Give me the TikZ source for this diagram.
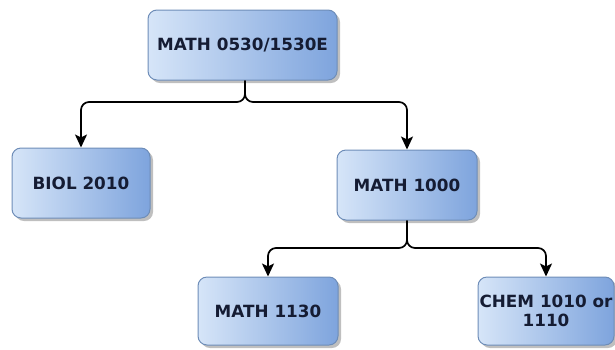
\documentclass[tikz,border=0pt]{standalone}
\usepackage{fontspec}
\setmainfont{DejaVu Sans}
\usetikzlibrary{shadows,arrows.meta}
\definecolor{boxl}{HTML}{D6E5F8}
\definecolor{boxr}{HTML}{7EA4DD}
\definecolor{boxd}{HTML}{6E8DB8}
\definecolor{txt}{HTML}{151C33}
\begin{document}
\begin{tikzpicture}[x=1pt,y=-1pt,
  course/.style={draw=boxd, line width=1pt, rounded corners=9pt, left color=boxl, right color=boxr,
    drop shadow={shadow xshift=3pt, shadow yshift=-3pt, fill=black, opacity=0.25},
    font=\fontsize{16.8}{19}\selectfont\bfseries, text=txt, align=center, inner sep=1pt},
  link/.style={line width=1.7pt, rounded corners=8pt, -{Stealth[length=13pt,width=12pt,inset=3pt]}}]
\useasboundingbox (0,0) rectangle (615,349);
\node[course, minimum width=189pt, minimum height=70pt] (top) at (242.5,45) {MATH 0530/1530E};
\node[course, minimum width=138pt, minimum height=70pt] (biol) at (81,183) {BIOL 2010};
\node[course, minimum width=140pt, minimum height=70pt] (m1000) at (407,185) {MATH 1000};
\node[course, minimum width=140pt, minimum height=68pt] (m1130) at (268,311) {MATH 1130};
\node[course, minimum width=136pt, minimum height=68pt] (chem) at (546,311) {CHEM 1010 or\\1110};
\coordinate (j1) at (245,102);
\coordinate (j2) at (407,248);
\draw[link] ([xshift=2.5pt]top.south) |- (j1) -| (biol.north);
\draw[link] ([xshift=2.5pt]top.south) |- (j1) -| (m1000.north);
\draw[link] (m1000.south) |- (j2) -| (m1130.north);
\draw[link] (m1000.south) |- (j2) -| (chem.north);
\end{tikzpicture}
\end{document}
